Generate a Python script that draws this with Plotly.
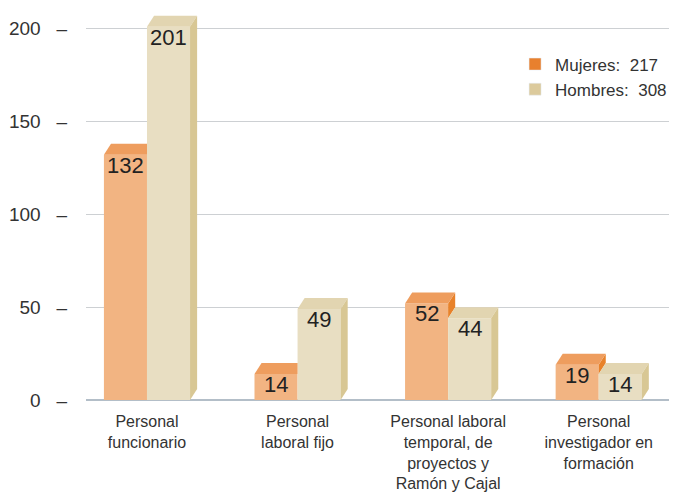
import plotly.graph_objects as go

categorias = ["Personal<br>funcionario", "Personal<br>laboral fijo",
              "Personal laboral<br>temporal, de<br>proyectos y<br>Ramón y Cajal",
              "Personal<br>investigador en<br>formación"]
mujeres = [132, 14, 52, 19]
hombres = [201, 49, 44, 14]
yticks = [0, 50, 100, 150, 200]

# colores: frente, tapa, lateral, leyenda
col_m = ["#F2B482", "#EE9D5E", "#E8822A", "#E8802E"]
col_h = ["#E8DEC2", "#E2D5B1", "#D8C794", "#DCCA9C"]

w = 0.286    # ancho de cada barra
dx = 0.047   # profundidad 3D en x
dy = 5.9     # profundidad 3D en y

xs = list(range(len(categorias)))
fig = go.Figure()

# caras frontales
fig.add_trace(go.Bar(x=xs, y=mujeres, offset=-w, width=w, marker_color=col_m[0],
                     marker_line_width=0, showlegend=False, hoverinfo="y"))
fig.add_trace(go.Bar(x=xs, y=hombres, offset=0, width=w, marker_color=col_h[0],
                     marker_line_width=0, showlegend=False, hoverinfo="y"))


def poly(px, py, color):
    fig.add_trace(go.Scatter(x=px, y=py, fill="toself", fillcolor=color, mode="lines",
                             line=dict(width=0, color=color), hoverinfo="skip",
                             showlegend=False))


for i in xs:
    vm, vh = mujeres[i], hombres[i]
    x0, x1, x2 = i - w, i, i + w
    # mujeres: lateral visible solo por encima de hombres
    if vm > vh:
        poly([x1, x1, x1 + dx, x1 + dx], [vh, vm, vm + dy, vh + dy], col_m[2])
        poly([x0, x0 + dx, x1 + dx, x1], [vm, vm + dy, vm + dy, vm], col_m[1])
    else:
        poly([x0, x0 + dx, x1, x1], [vm, vm + dy, vm + dy, vm], col_m[1])
    # hombres: tapa y lateral
    poly([x1, x1 + dx, x2 + dx, x2], [vh, vh + dy, vh + dy, vh], col_h[1])
    poly([x2, x2, x2 + dx, x2 + dx], [0, vh, vh + dy, dy], col_h[2])
    # valores
    for xc, v in ((i - w / 2, vm), (i + w / 2, vh)):
        fig.add_annotation(x=xc, y=v, text=str(v), showarrow=False, yanchor="top",
                           yshift=4, font=dict(size=22, color="#222"))

# leyenda
fig.add_trace(go.Bar(x=[None], y=[None], marker_color=col_m[3],
                     name="Mujeres:  %d" % sum(mujeres), legendgroup="m"))
fig.add_trace(go.Bar(x=[None], y=[None], marker_color=col_h[3],
                     name="Hombres:  %d" % sum(hombres), legendgroup="h"))

# la página añade 8px de margen: la figura se reduce en 8px
fig.update_layout(
    width=669, height=487,
    margin=dict(l=78, r=0, t=1, b=95, autoexpand=False),
    barmode="overlay",
    plot_bgcolor="white", paper_bgcolor="white",
    font=dict(family="Liberation Sans, Arial", color="#333"),
    legend=dict(x=0.726, y=0.904, xanchor="left", yanchor="top",
                font=dict(size=17, color="#333"), tracegroupgap=0,
                bgcolor="rgba(0,0,0,0)"),
    xaxis=dict(range=[-0.405, 3.52], tickvals=xs, ticktext=categorias,
               showgrid=False, zeroline=False, showline=False, ticks="",
               tickfont=dict(size=16, color="#333"), ticklabelstandoff=10),
    yaxis=dict(range=[0, 210.5], tickvals=yticks,
               ticktext=["%d\u00a0\u00a0\u00a0–" % v for v in yticks],
               showgrid=True, gridcolor="#CDD0D3", gridwidth=1,
               zeroline=True, zerolinecolor="#B3BEC8", zerolinewidth=1.5,
               showline=False, ticks="", tickfont=dict(size=19, color="#333"),
               ticklabelstandoff=18),
)

fig.write_html("out.html")
